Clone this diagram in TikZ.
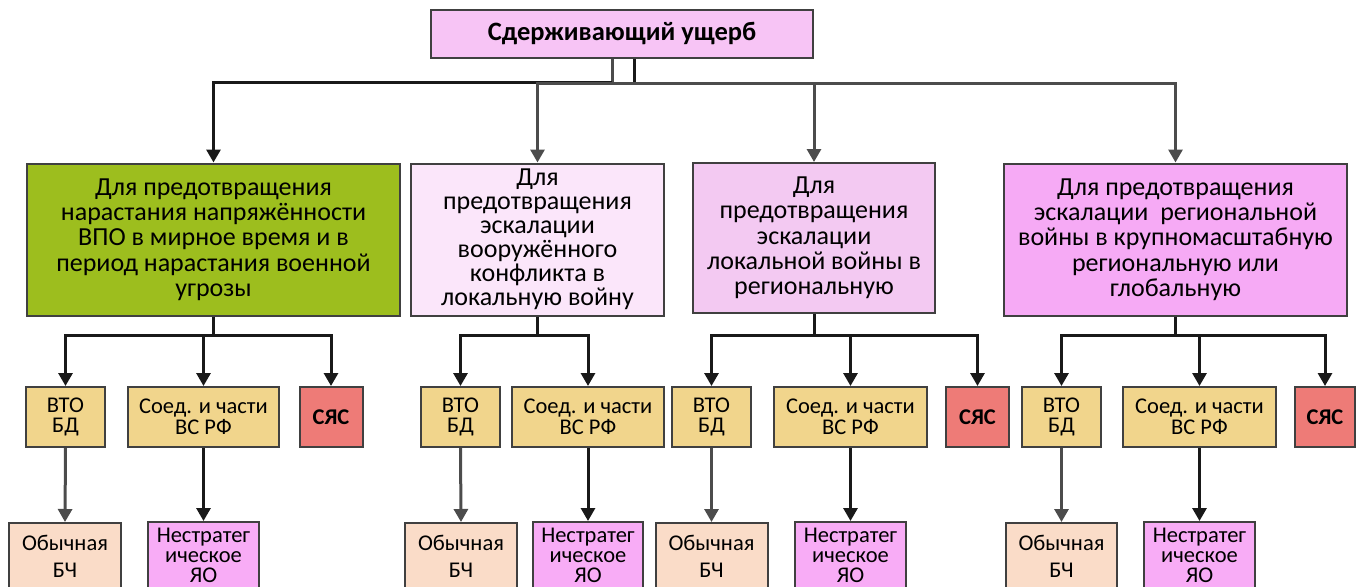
\documentclass[tikz,border=0pt]{standalone}
\usepackage{fontspec}
\setmainfont{Carlito}
\usetikzlibrary{arrows.meta}

\definecolor{topfill}{HTML}{F7C4F5}
\definecolor{grnfill}{HTML}{9DBE1E}
\definecolor{palefill}{HTML}{FBE6FA}
\definecolor{lilfill}{HTML}{F3C9F2}
\definecolor{pinkfill}{HTML}{F6AAF5}
\definecolor{sandfill}{HTML}{F1D58C}
\definecolor{redfill}{HTML}{EE7B77}
\definecolor{peachfill}{HTML}{FADCC8}
\definecolor{nucfill}{HTML}{F8ACF6}

\begin{document}
\begin{tikzpicture}[x=1pt, y=-1pt,
    box/.style={draw=black!75, line width=2pt, align=center, inner sep=0pt, text=black},
    big/.style={box, font=\fontsize{26}{25.3}\selectfont, minimum height=152pt},
    small/.style={box, font=\fontsize{22.5}{20.5}\selectfont, minimum height=60pt},
    low/.style={box, font=\fontsize{22.5}{20}\selectfont, minimum height=66pt},
    line/.style={line width=3pt, draw=black!90},
    conn/.style={line, -{Triangle[length=13pt, width=14pt]}},
    gconn/.style={conn, draw=black!70}
]
    \useasboundingbox (0,0) rectangle (1359,586);
    \clip (0,0) rectangle (1359,586);

    % top
    \node[box, fill=topfill, minimum width=382pt, minimum height=48pt,
          font=\bfseries\fontsize{26.5}{26}\selectfont] (top) at (622,34) {Сдерживающий ущерб};

    % second row
    \node[big, fill=grnfill, minimum width=373pt] (d1) at (213.5,239.5)
        {Для предотвращения\\нарастания напряжённости\\ВПО в мирное время и в\\период нарастания военной\\угрозы};
    \node[big, fill=palefill, minimum width=253pt, font=\fontsize{26}{24}\selectfont] (d2) at (537.5,239.5)
        {Для\\предотвращения\\эскалации\\вооружённого\\конфликта в\\локальную войну};
    \node[big, fill=lilfill, minimum width=242pt, minimum height=150pt] (d3) at (814,238)
        {Для\\предотвращения\\эскалации\\локальной войны в\\региональную};
    \node[big, fill=pinkfill, minimum width=343pt] (d4) at (1175.5,239.5)
        {Для предотвращения\\эскалации\ \ региональной\\войны в крупномасштабную\\региональную или\\глобальную};

    \coordinate (hubL) at (612,82);
    \coordinate (hubR) at (634,83);
    \draw[line, draw=black!70] (top.south -| hubL) -- (hubL);
    \draw[line] (top.south -| hubR) -- (hubR);
    \draw[conn] (hubL) -| (d1.north);
    \draw[gconn] (hubR) -| (d2.north);
    \draw[gconn] (hubR) -| (d3.north);
    \draw[gconn] (hubR) -| (d4.north);

    % third row
    \node[small, fill=sandfill, minimum width=79pt] (v1) at (65.5,417) {ВТО\\БД};
    \node[small, fill=sandfill, minimum width=151pt] (s1) at (203.5,417) {Соед. и части\\ВС РФ};
    \node[small, fill=redfill, minimum width=63pt] (y1) at (331,417) {\bfseries СЯС};
    \node[small, fill=sandfill, minimum width=79pt] (v2) at (460.5,417) {ВТО\\БД};
    \node[small, fill=sandfill, minimum width=152pt] (s2) at (588,417) {Соед. и части\\ВС РФ};
    \node[small, fill=sandfill, minimum width=79pt] (v3) at (711.5,417) {ВТО\\БД};
    \node[small, fill=sandfill, minimum width=153pt] (s3) at (850.5,417) {Соед. и части\\ВС РФ};
    \node[small, fill=redfill, minimum width=63pt] (y3) at (977.5,417) {\bfseries СЯС};
    \node[small, fill=sandfill, minimum width=79pt] (v4) at (1061.5,417) {ВТО\\БД};
    \node[small, fill=sandfill, minimum width=153pt] (s4) at (1199.5,417) {Соед. и части\\ВС РФ};
    \node[small, fill=redfill, minimum width=60pt] (y4) at (1325,417) {\bfseries СЯС};

    \draw[line] (d1.south) -- ++(0,19) coordinate (j1);
    \draw[conn] (j1) -| (v1.north);
    \draw[conn] (j1) -| (s1.north);
    \draw[conn] (j1) -| (y1.north);
    \draw[line] (d2.south) -- ++(0,19) coordinate (j2);
    \draw[conn] (j2) -| (v2.north);
    \draw[conn] (j2) -| (s2.north);
    \draw[line] (d3.south) -- ++(0,21) coordinate (j3);
    \draw[conn] (j3) -| (v3.north);
    \draw[conn] (j3) -| (s3.north);
    \draw[conn] (j3) -| (y3.north);
    \draw[line] (d4.south) -- ++(0,19) coordinate (j4);
    \draw[conn] (j4) -| (v4.north);
    \draw[conn] (j4) -| (s4.north);
    \draw[conn] (j4) -| (y4.north);

    % bottom row
    \node[low, fill=peachfill, minimum width=112pt, font=\fontsize{22.5}{27}\selectfont] (b1) at (65,556) {Обычная\\БЧ};
    \node[low, fill=nucfill, minimum width=111pt] (n1) at (203.5,555) {Нестратег\\ическое\\ЯО};
    \node[low, fill=peachfill, minimum width=112pt, font=\fontsize{22.5}{27}\selectfont] (b2) at (461,556) {Обычная\\БЧ};
    \node[low, fill=nucfill, minimum width=110pt] (n2) at (588,555) {Нестратег\\ическое\\ЯО};
    \node[low, fill=peachfill, minimum width=112pt, font=\fontsize{22.5}{27}\selectfont] (b3) at (711.5,556) {Обычная\\БЧ};
    \node[low, fill=nucfill, minimum width=111pt] (n3) at (850.5,555) {Нестратег\\ическое\\ЯО};
    \node[low, fill=peachfill, minimum width=111pt, font=\fontsize{22.5}{27}\selectfont] (b4) at (1061.5,556) {Обычная\\БЧ};
    \node[low, fill=nucfill, minimum width=111pt] (n4) at (1199.5,555) {Нестратег\\ическое\\ЯО};

    \draw[gconn] (v1.south) -- (b1.north);
    \draw[conn] (s1.south) -- (n1.north);
    \draw[gconn] (v2.south) -- (b2.north);
    \draw[conn] (s2.south) -- (n2.north);
    \draw[gconn] (v3.south) -- (b3.north);
    \draw[conn] (s3.south) -- (n3.north);
    \draw[gconn] (v4.south) -- (b4.north);
    \draw[conn] (s4.south) -- (n4.north);
\end{tikzpicture}
\end{document}
